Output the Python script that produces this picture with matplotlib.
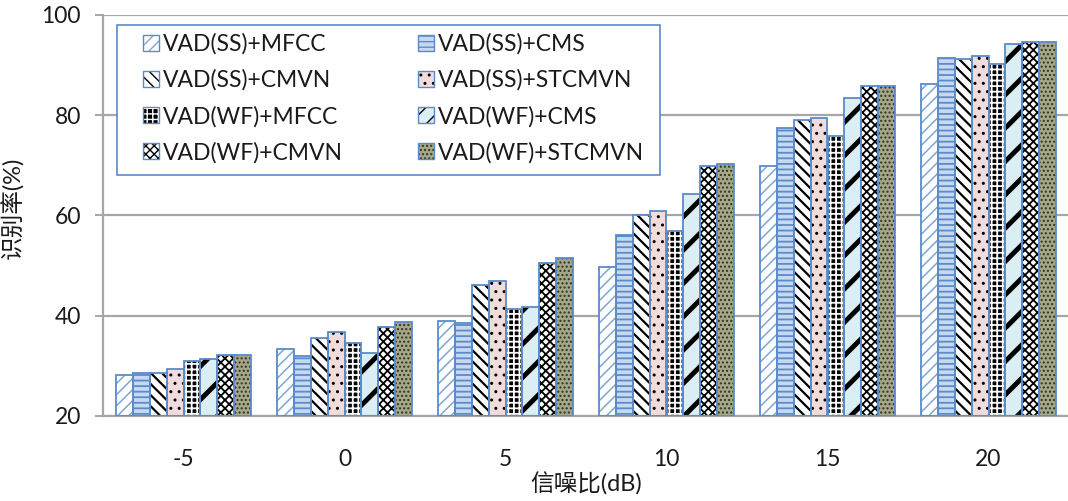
import numpy as np
import matplotlib
matplotlib.use('Agg')
import matplotlib.pyplot as plt
import matplotlib.patches as mpatches

plt.rcParams['font.family'] = ['Lato', 'Noto Sans CJK SC', 'DejaVu Sans']

snr = ['-5', '0', '5', '10', '15', '20']
series = ['VAD(SS)+MFCC', 'VAD(SS)+CMS', 'VAD(SS)+CMVN', 'VAD(SS)+STCMVN',
          'VAD(WF)+MFCC', 'VAD(WF)+CMS', 'VAD(WF)+CMVN', 'VAD(WF)+STCMVN']

ss_mfcc   = [28.2, 33.4, 38.9, 49.8, 69.9, 86.3]
ss_cms    = [28.6, 31.9, 38.6, 56.2, 77.5, 91.5]
ss_cmvn   = [28.5, 35.5, 46.2, 60.1, 79.1, 91.3]
ss_stcmvn = [29.4, 36.7, 47.0, 60.9, 79.5, 91.9]
wf_mfcc   = [31.0, 34.5, 41.3, 57.0, 75.8, 90.3]
wf_cms    = [31.4, 32.6, 41.8, 64.3, 83.5, 94.3]
wf_cmvn   = [32.2, 37.8, 50.5, 69.9, 85.8, 94.7]
wf_stcmvn = [32.2, 38.7, 51.5, 70.2, 85.8, 94.7]
values = [ss_mfcc, ss_cms, ss_cmvn, ss_stcmvn, wf_mfcc, wf_cms, wf_cmvn, wf_stcmvn]

# (face, hatch, hatch colour, hatch line width, legend hatch)
styles = [
    ('white',   '///',  '#7fa6d8', 1.1, '///'),
    ('#c6d9f1', '---',  '#5b8bc9', 1.3, '---'),
    ('white',   '\\\\\\', 'black', 1.6, '\\\\\\'),
    ('#f2dcdb', '..',   'black',   1.0, '..'),
    ('black',   '+++',  'white',   1.3, '+++'),
    ('#daeef3', '/',    'black',   3.5, '//'),
    ('white',   'xxxx', 'black',   1.3, 'xxxx'),
    ('#a4a888', '....', '#30321f', 1.0, '....'),
]
edge_blue = '#5b8bc9'
grid_grey = '#a6a6a6'
txt = '#1a1a1a'

fig = plt.figure(figsize=(10.68, 5.01), dpi=100)
ax = fig.add_axes([103/1068, 85/501, 966/1068, 401/501])

x = np.arange(len(snr))
w = 0.105
for i, vals in enumerate(values):
    fc, hatch, hc, hlw, _ = styles[i]
    pos = x + (i - 3.5) * w
    with plt.rc_context({'hatch.linewidth': hlw}):
        ax.bar(pos, np.array(vals) - 20, w, bottom=20, color=fc, hatch=hatch,
               edgecolor=hc, linewidth=0, zorder=2)
    ax.bar(pos, np.array(vals) - 20, w, bottom=20, fill=False,
           edgecolor=edge_blue, linewidth=1.3, zorder=3)

ax.set_xlim(-0.5, 5.5)
ax.set_ylim(20, 100)
ax.set_yticks([20, 40, 60, 80, 100])
ax.set_xticks(x)
ax.set_xticklabels(snr)
ax.yaxis.grid(True, color=grid_grey, linewidth=1.6, zorder=0)
ax.set_axisbelow(True)
for s in ['top', 'right']:
    ax.spines[s].set_visible(False)
for s in ['left', 'bottom']:
    ax.spines[s].set_color(grid_grey)
    ax.spines[s].set_linewidth(1.6)
ax.tick_params(axis='y', length=6, width=1.4, color=grid_grey, pad=10,
               labelsize=16.5, labelcolor=txt)
ax.tick_params(axis='x', length=0, pad=24, labelsize=16.5, labelcolor=txt)

ax.set_xlabel('信噪比(dB)', fontsize=17, color=txt)
ax.xaxis.set_label_coords(0.5, -0.14)
ax.set_ylabel('识别率(%)', fontsize=17, color=txt)
ax.yaxis.set_label_coords(-0.081, 0.52)

# legend frame drawn by hand so the inner padding can match
frame = mpatches.Rectangle((117/1068, 1 - 175/501), (660 - 117)/1068, 150/501,
                           transform=fig.transFigure, facecolor='white',
                           edgecolor=edge_blue, linewidth=1.2, zorder=4,
                           clip_on=False)
ax.add_patch(frame)

handles = []
for i in range(8):
    fc, hatch, hc, hlw, lhatch = styles[i]
    with plt.rc_context({'hatch.linewidth': min(hlw, 1.6)}):
        inner = mpatches.Patch(facecolor=fc, hatch=lhatch, edgecolor=hc, linewidth=0)
    outer = mpatches.Patch(fill=False, edgecolor=edge_blue, linewidth=1.0)
    handles.append((inner, outer))
order = [0, 2, 4, 6, 1, 3, 5, 7]
leg = ax.legend([handles[k] for k in order], [series[k] for k in order],
                ncol=2, loc='upper left', bbox_to_anchor=(136/1068, 1 - 26.5/501),
                bbox_transform=fig.transFigure,
                fontsize=16.5, frameon=False,
                handlelength=0.7, handleheight=0.7, handletextpad=0.17,
                labelspacing=0.64, columnspacing=3.3, borderpad=0.3,
                borderaxespad=0)
for t in leg.get_texts():
    t.set_color(txt)
leg.set_zorder(5)

fig.savefig('out.png', dpi=100)
